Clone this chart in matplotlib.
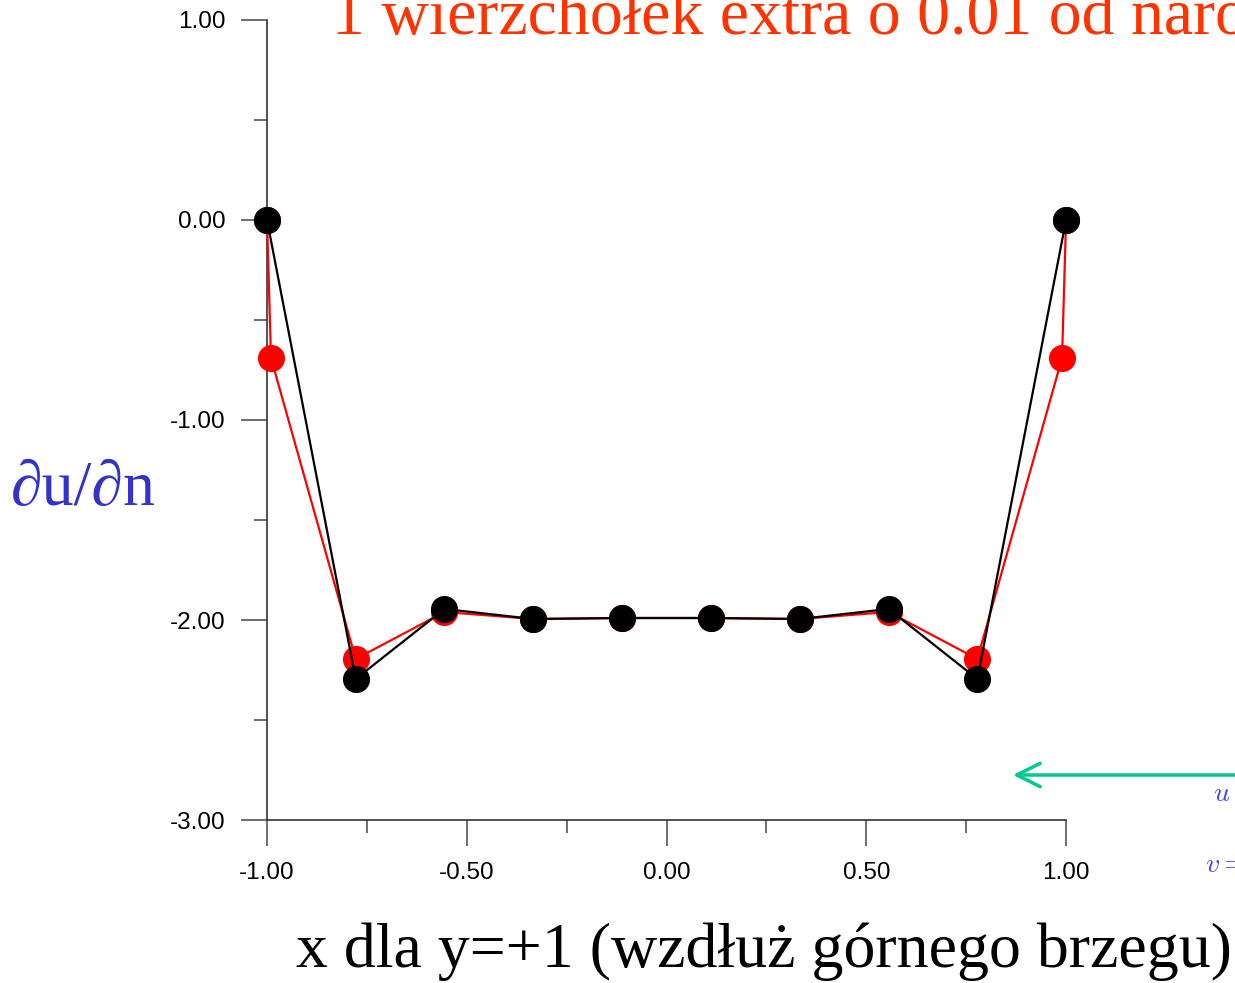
import matplotlib.pyplot as plt
from matplotlib.ticker import MultipleLocator, FormatStrFormatter

# dane
x_black = [-1.0, -0.778, -0.556, -0.333, -0.111, 0.111, 0.333, 0.556, 0.778, 1.0]
y_black = [0.0, -2.295, -1.945, -1.995, -1.99, -1.99, -1.995, -1.945, -2.295, 0.0]

x_red = [-1.0, -0.99, -0.778, -0.556, -0.333, -0.111, 0.111, 0.333, 0.556, 0.778, 0.99, 1.0]
y_red = [0.0, -0.69, -2.195, -1.96, -1.995, -1.99, -1.99, -1.995, -1.96, -2.195, -0.69, 0.0]

title = "1 wierzchołek extra o 0.01 od naro"
xlabel = "x dla y=+1 (wzdłuż górnego brzegu)"
ylabel = "∂u/∂n"

serif = ['Liberation Serif', 'DejaVu Serif']
plt.rcParams['font.family'] = ['Liberation Sans', 'DejaVu Sans']
plt.rcParams['mathtext.fontset'] = 'cm'

fig = plt.figure(figsize=(12.35, 9.83), dpi=100)
ax = fig.add_axes([0.2162, 0.1658, 0.6470, 0.8139])

ax.plot(x_red, y_red, color='red', lw=1.6, marker='o', ms=18.5, clip_on=False, zorder=3)
ax.plot(x_black, y_black, color='black', lw=1.6, marker='o', ms=18.5, clip_on=False, zorder=4)

ax.set_xlim(-1, 1)
ax.set_ylim(-3, 1)
ax.spines['top'].set_visible(False)
ax.spines['right'].set_visible(False)
for s in ['left', 'bottom']:
    ax.spines[s].set_linewidth(1.2)
    ax.spines[s].set_color('#333333')

ax.xaxis.set_major_locator(MultipleLocator(0.5))
ax.xaxis.set_minor_locator(MultipleLocator(0.25))
ax.yaxis.set_major_locator(MultipleLocator(1.0))
ax.yaxis.set_minor_locator(MultipleLocator(0.5))
ax.xaxis.set_major_formatter(FormatStrFormatter('%.2f'))
ax.yaxis.set_major_formatter(FormatStrFormatter('%.2f'))
ax.tick_params(which='major', direction='out', length=19, width=1.2, color='#555555',
               labelsize=17.5, pad=11)
ax.tick_params(which='minor', direction='out', length=9.5, width=1.2, color='#555555')

fig.text(0.269, 0.965, title, color='#ff3300', fontsize=47.3, family=serif, va='baseline')
fig.text(0.240, 0.016, xlabel, color='black', fontsize=46, family=serif, va='baseline')
fig.text(0.009, 0.486, ylabel, color='#3333cc', fontsize=46, family=serif, va='baseline')

# fragment sąsiedniego rysunku po prawej
fig.patches.append(plt.matplotlib.patches.FancyArrowPatch(
    (1.02, 0.2116), (0.818, 0.2116), transform=fig.transFigure,
    arrowstyle='->', mutation_scale=42, lw=2.5, color='#00c890'))
fig.text(0.982, 0.185, '$u$', color='#4444ee', fontsize=20)
fig.text(0.976, 0.113, '$v=$', color='#4444ee', fontsize=20)

fig.savefig('out.png', dpi=100)
